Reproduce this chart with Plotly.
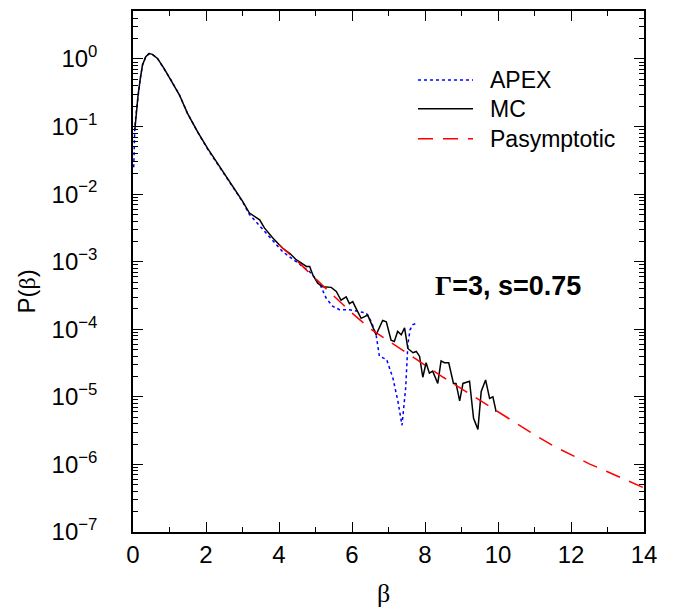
import plotly.graph_objects as go

# ---- data ----
mc_beta = [0.05, 0.10, 0.14, 0.20, 0.26, 0.35, 0.44, 0.53, 0.67, 0.85, 1.04, 1.27, 1.49, 1.77,
           2.04, 2.41, 2.77, 3.0, 3.19, 3.28, 3.35, 3.47, 3.6, 3.83, 4.10, 4.3, 4.47, 4.56, 4.75,
           4.84, 4.93, 5.06, 5.2, 5.43, 5.57, 5.7, 5.84, 5.93, 6.02, 6.11, 6.25, 6.43, 6.66, 6.84,
           6.94, 7.07, 7.16, 7.25, 7.35, 7.44, 7.53, 7.67, 7.76, 7.85, 7.94, 8.03, 8.12, 8.21,
           8.35, 8.44, 8.53, 8.65, 8.78, 8.85, 8.95, 9.04, 9.22, 9.33, 9.45, 9.54, 9.66, 9.77,
           9.86, 9.95]
mc_p = [0.089, 0.186, 0.295, 0.513, 0.813, 1.08, 1.20, 1.17, 1.02, 0.724, 0.490, 0.295, 0.158,
        0.0832, 0.0479, 0.0240, 0.0123, 7.9e-3, 5.25e-3, 4.9e-3, 4.68e-3, 4.17e-3, 3.16e-3,
        2.24e-3, 1.58e-3, 1.32e-3, 1.07e-3, 1.0e-3, 8.5e-4, 8.5e-4, 6.3e-4, 4.8e-4, 4.27e-4,
        4.17e-4, 3.63e-4, 2.69e-4, 3.02e-4, 2.40e-4, 2.57e-4, 2.04e-4, 1.45e-4, 1.62e-4, 8.3e-5,
        1.35e-4, 1.29e-4, 6.9e-5, 6.6e-5, 9.3e-5, 8.3e-5, 1.05e-4, 5.2e-5, 4.5e-5, 4.7e-5,
        4.0e-5, 1.95e-5, 3.2e-5, 2.24e-5, 2.4e-5, 1.58e-5, 3.4e-5, 3.2e-5, 3.2e-5, 1.58e-5,
        1.58e-5, 8.7e-6, 1.58e-5, 1.7e-5, 4.8e-6, 3.3e-6, 1.2e-5, 1.78e-5, 9.5e-6, 1.0e-5, 6.0e-6]

apex_beta = [0.02, 0.05, 0.10, 0.14, 0.20, 0.26, 0.35, 0.44, 0.53, 0.67, 0.85, 1.04, 1.27, 1.49,
             1.77, 2.04, 2.41, 2.77, 3.0, 3.19, 3.37, 3.6, 3.83, 4.10, 4.3, 4.56, 4.84, 5.11,
             5.29, 5.47, 5.66, 5.93, 6.16, 6.39, 6.53, 6.66, 6.75, 6.95, 7.12, 7.26, 7.37, 7.47,
             7.53, 7.59, 7.67, 7.78]
apex_p = [0.025, 0.1, 0.186, 0.295, 0.513, 0.813, 1.08, 1.20, 1.17, 1.02, 0.724, 0.49, 0.295,
          0.158, 0.0832, 0.0468, 0.0234, 0.0120, 7.76e-3, 5.0e-3, 3.9e-3, 2.82e-3, 2.0e-3,
          1.41e-3, 1.17e-3, 9.3e-4, 7.1e-4, 4.8e-4, 2.9e-4, 2.19e-4, 1.95e-4, 1.95e-4, 1.82e-4,
          1.74e-4, 1.29e-4, 8.3e-5, 4.0e-5, 3.55e-5, 1.9e-5, 8.5e-6, 3.8e-6, 1.35e-5, 5.9e-5,
          9.8e-5, 1.17e-4, 1.23e-4]

asym_beta = [4.0, 4.5, 5.0, 5.5, 6.0, 6.5, 7.0, 7.5, 8.0, 8.5, 9.0, 9.5, 10.0, 10.5, 11.0,
             11.5, 12.0, 12.5, 13.0, 13.5, 14.0]
asym_p = [1.78e-3, 1.02e-3, 5.6e-4, 3.09e-4, 1.74e-4, 1.02e-4, 6.8e-5, 4.5e-5, 2.95e-5, 1.95e-5,
          1.32e-5, 8.9e-6, 5.9e-6, 4.0e-6, 2.75e-6, 1.9e-6, 1.38e-6, 1.02e-6, 7.8e-7, 5.9e-7,
          4.5e-7]

x_tick_vals = [0, 2, 4, 6, 8, 10, 12, 14]
y_tick_exponents = [-7, -6, -5, -4, -3, -2, -1, 0]
legend_names = ["APEX", "MC", "Pasymptotic"]
label_text = "<span style='font-family:Liberation Serif'>Γ</span>=3, s=0.75"

SANS = "Liberation Sans, Arial, sans-serif"
SERIF = "Liberation Serif, Times New Roman, serif"

fig = go.Figure()
fig.add_trace(go.Scatter(x=apex_beta, y=apex_p, mode="lines", name=legend_names[0],
                         line=dict(color="#0000ff", width=1.5, dash="dot"), showlegend=False))
fig.add_trace(go.Scatter(x=mc_beta, y=mc_p, mode="lines", name=legend_names[1],
                         line=dict(color="black", width=1.5), showlegend=False))
fig.add_trace(go.Scatter(x=asym_beta, y=asym_p, mode="lines", name=legend_names[2],
                         line=dict(color="#ff0000", width=1.5, dash="15px,10px"), showlegend=False))

y_ticktext = ["10<sup>" + ("−" if e < 0 else "") + str(abs(e)) + "</sup>" for e in y_tick_exponents]
y_minor = [m * 10.0 ** e for e in range(-7, 1) for m in range(2, 10)]

axis_common = dict(showline=True, linecolor="black", linewidth=1.5, mirror="allticks",
                   ticks="inside", tickcolor="black", tickwidth=1, ticklen=10,
                   showgrid=False, zeroline=False,
                   tickfont=dict(family=SANS, size=24, color="black"))

fig.update_xaxes(range=[0, 14], tickvals=x_tick_vals, ticklabelstandoff=0,
                 minor=dict(dtick=1, ticks="inside", ticklen=5, tickcolor="black", showgrid=False),
                 **axis_common)
fig.update_yaxes(type="log", range=[-7, 0.71],
                 tickvals=[10.0 ** e for e in y_tick_exponents], ticktext=y_ticktext,
                 ticklabelstandoff=29,
                 minor=dict(tickvals=y_minor, ticks="inside", ticklen=5, tickcolor="black",
                            showgrid=False),
                 **axis_common)

# manual legend
legend_y = [0.8678, 0.8123, 0.7548]
legend_styles = [dict(color="#0000ff", width=1.5, dash="dot"),
                 dict(color="black", width=1.5),
                 dict(color="#ff0000", width=1.5, dash="15px,10px")]
for name, yy, st in zip(legend_names, legend_y, legend_styles):
    fig.add_shape(type="line", xref="paper", yref="paper", x0=0.5577, x1=0.6654, y0=yy, y1=yy,
                  line=st)
    fig.add_annotation(xref="paper", yref="paper", x=0.6947, y=yy, xanchor="left", yanchor="middle",
                       text=name, showarrow=False, font=dict(family=SANS, size=23, color="black"))

# in-plot label
fig.add_annotation(xref="paper", yref="paper", x=0.733, y=0.472, xanchor="center", yanchor="middle",
                   text="<b>" + label_text + "</b>", showarrow=False,
                   font=dict(family=SANS, size=27, color="black"))

# axis titles
fig.add_annotation(xref="paper", yref="paper", x=0.49, y=-0.118, xanchor="center", yanchor="middle",
                   text="β", showarrow=False, font=dict(family=SERIF, size=26, color="black"))
fig.add_annotation(xref="paper", yref="paper", x=-0.209, y=0.462, xanchor="center", yanchor="middle",
                   textangle=-90,
                   text="P(<span style='font-family:Liberation Serif'>β</span>)", showarrow=False,
                   font=dict(family=SANS, size=24, color="black"))

fig.update_layout(width=665, height=600, margin=dict(l=125, r=29, t=1, b=76),
                  plot_bgcolor="white", paper_bgcolor="white", showlegend=False)

fig.write_html("out.html")
